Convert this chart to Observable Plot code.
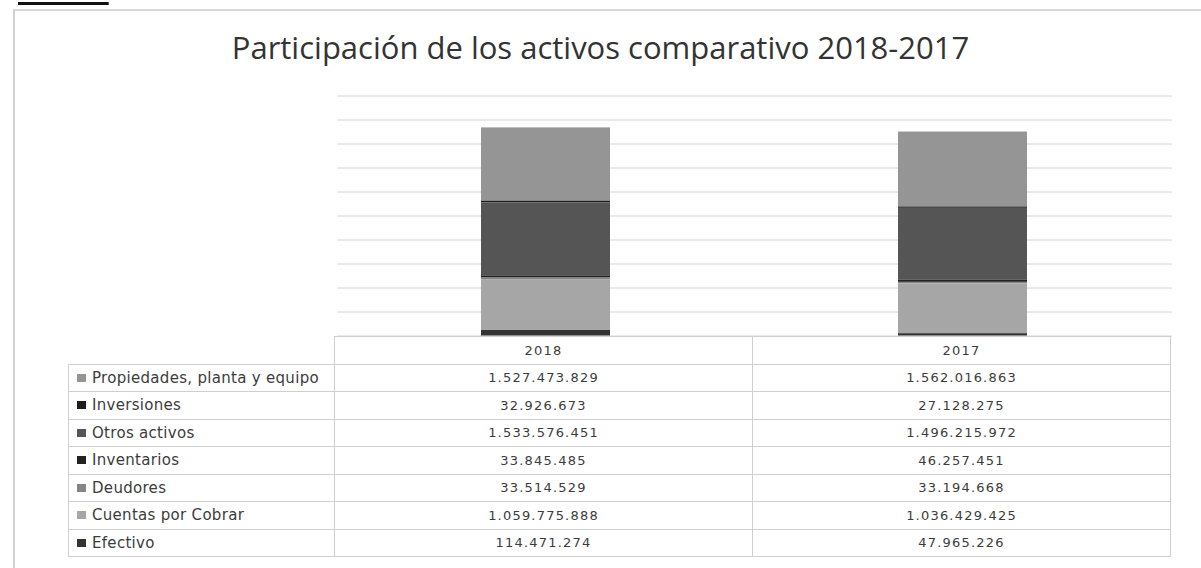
<!DOCTYPE html>
<html>
<head>
<meta charset="utf-8">
<script src="https://cdn.jsdelivr.net/npm/d3@7"></script>
<script src="https://cdn.jsdelivr.net/npm/@observablehq/plot@0.6"></script>
<style>
  html, body { margin: 0; padding: 0; background: #fff; }
  body { width: 1201px; height: 568px; position: relative; overflow: hidden; }
  #heading { position: absolute; left: 18px; top: -18px; font: bold 22px "DejaVu Sans", sans-serif; line-height: 22px; color: #111; text-decoration: underline; text-decoration-thickness: 3px; }
  #frame { position: absolute; left: 13px; top: 9px; width: 1190px; height: 580px; border-left: 2px solid #d0d0d0; border-top: 2px solid #d8d8d8; }
  #title { position: absolute; left: 0; width: 1201px; top: 26px; line-height: 1; text-align: center; font: 31px "Open Sans", sans-serif; color: #333; white-space: nowrap; }
  #chart { position: absolute; left: 0; top: 0; }
  table { position: absolute; left: 68px; top: 336px; border-collapse: collapse; }
  td { border: 1px solid #cfcfcf; height: 26.5px; padding: 0; font: 13px "DejaVu Sans", sans-serif; letter-spacing: 1.2px; color: #3c3c3c; text-align: center; white-space: nowrap; }
  td.lab { width: 266px; text-align: left; padding-left: 8px; font: 15px "DejaVu Sans", sans-serif; letter-spacing: 0.3px; color: #3c3c3c; box-sizing: border-box; }
  td.blank { border: none; }
  td.val { width: 417px; }
  .sw { display: inline-block; width: 9px; height: 8px; margin-right: 6px; vertical-align: 1px; }
</style>
</head>
<body>
<div id="heading">Activos</div>
<div id="frame"></div>
<div id="title">Participación de los activos comparativo 2018-2017</div>
<div id="chart"></div>
<table id="tbl"></table>
<script>
// Data (table order, top to bottom)
const years = ["2018", "2017"];
const categories = ["Propiedades, planta y equipo", "Inversiones", "Otros activos", "Inventarios", "Deudores", "Cuentas por Cobrar", "Efectivo"];
const values2018 = [1527473829, 32926673, 1533576451, 33845485, 33514529, 1059775888, 114471274];
const values2017 = [1562016863, 27128275, 1496215972, 46257451, 33194668, 1036429425, 47965226];
const colors = ["#959595", "#1e1e1e", "#555555", "#222222", "#858585", "#a6a6a6", "#333333"];
const yTicks = [0, 500000000, 1000000000, 1500000000, 2000000000, 2500000000, 3000000000, 3500000000, 4000000000, 4500000000, 5000000000];

const fmt = v => d3.format(",")(v).replace(/,/g, ".");

const rows = [];
categories.forEach((c, i) => {
  rows.push({year: "2018", cat: c, value: values2018[i]});
  rows.push({year: "2017", cat: c, value: values2017[i]});
});

const stackOrder = categories.slice().reverse(); // bottom first: Efectivo ... Propiedades

const chart = Plot.plot({
  width: 1201,
  height: 340,
  marginTop: 95.5,
  marginBottom: 4.5,
  marginLeft: 337,
  marginRight: 29,
  x: {domain: years, paddingInner: 0.69, paddingOuter: 0.345, axis: null},
  y: {domain: [0, 5000000000], axis: null},
  color: {domain: categories, range: colors},
  marks: [
    Plot.gridY(yTicks, {stroke: "#d4d4d4", strokeOpacity: 1, strokeWidth: 1}),
    Plot.barY(rows, Plot.stackY({order: stackOrder}, {x: "year", y: "value", z: "cat", fill: "cat"}))
  ]
});
document.getElementById("chart").appendChild(chart);

// Data table
const tbl = document.getElementById("tbl");
let html = "<tr><td class='lab blank'></td>" + years.map(y => `<td class='val'>${y}</td>`).join("") + "</tr>";
categories.forEach((c, i) => {
  html += `<tr><td class='lab'><span class='sw' style='background:${colors[i]}'></span>${c}</td>` +
    `<td class='val'>${fmt(values2018[i])}</td><td class='val'>${fmt(values2017[i])}</td></tr>`;
});
tbl.innerHTML = html;
</script>
</body>
</html>
